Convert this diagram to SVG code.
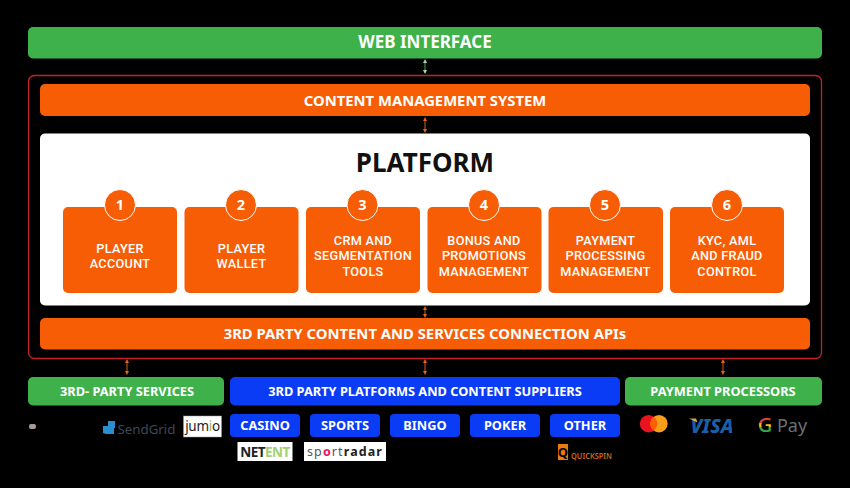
<svg xmlns="http://www.w3.org/2000/svg" width="850" height="488" viewBox="0 0 850 488">
<style>
text{font-family:"Noto Sans","Open Sans","Liberation Sans",sans-serif;text-anchor:middle}
.h{font-weight:700;fill:#fff}
.p{font-family:Roboto,"Liberation Sans",sans-serif;font-weight:500;font-size:12.700px;fill:#fff;letter-spacing:.3px}
.n{font-weight:700;font-size:14.500px;fill:#fff}
.b{font-weight:700;font-size:12.800px;fill:#fff}
.or{fill:#f75d04}.gr{fill:#3eb14a}.bl{fill:#0b3cf5}
.c{stroke:#c8622a;stroke-width:1;fill:none;marker-start:url(#a);marker-end:url(#a)}
.cg{stroke:#3eb14a;stroke-width:1;fill:none;marker-start:url(#ag);marker-end:url(#ag)}
</style>
<defs>
<marker id="a" markerUnits="userSpaceOnUse" markerWidth="4" markerHeight="4" refX="2" refY="2" orient="auto-start-reverse"><path d="M0 0L4 2L0 4Z" fill="#e8650f"/></marker>
<marker id="ag" markerUnits="userSpaceOnUse" markerWidth="4" markerHeight="4" refX="2" refY="2" orient="auto-start-reverse"><path d="M0 0L4 2L0 4Z" fill="#a5d8aa"/></marker>
<linearGradient id="g" x1="0" y1="0" x2="0" y2="1"><stop offset=".45" stop-color="#ea4335"/><stop offset=".45" stop-color="#fbbc05"/><stop offset=".6" stop-color="#fbbc05"/><stop offset=".6" stop-color="#34a853"/></linearGradient>
</defs>
<rect width="850" height="488" fill="#000"/>
<g id="container"><rect x="28.500" y="75.500" width="793" height="283" rx="6" fill="none" stroke="#c5202a" stroke-width="1.300"/></g>
<g id="connectors">
<path class="cg" d="M425 61V72"/>
<path class="c" d="M425 119V131"/>
<path class="c" d="M425 308V316"/>
<path class="c" d="M127 361V373"/>
<path class="c" d="M425 361V373"/>
<path class="c" d="M723 361V373"/>
</g>
<g id="web-interface"><rect class="gr" x="28" y="27" width="794" height="31.500" rx="5"/><text class="h" x="425" y="48" font-size="17">WEB INTERFACE</text></g>
<g id="cms"><rect class="or" x="40" y="84" width="770" height="32" rx="5"/><text class="h" x="425" y="106" font-size="14.800">CONTENT MANAGEMENT SYSTEM</text></g>
<g id="platform"><rect x="40" y="133.500" width="770" height="172" rx="5" fill="#fff"/><text x="425" y="172" style="font-weight:700;font-size:26px;fill:#111">PLATFORM</text></g>
<g id="card1"><rect class="or" x="63" y="207" width="114" height="86" rx="5"/><circle class="or" cx="120" cy="205" r="15.500" stroke="#fff" stroke-width="1"/><text class="n" x="120" y="210">1</text><text class="p" x="120" y="253">PLAYER</text><text class="p" x="120" y="268.300">ACCOUNT</text></g>
<g id="card2"><rect class="or" x="184.500" y="207" width="114" height="86" rx="5"/><circle class="or" cx="241" cy="205" r="15.500" stroke="#fff" stroke-width="1"/><text class="n" x="241" y="210">2</text><text class="p" x="241.500" y="253">PLAYER</text><text class="p" x="241.500" y="268.300">WALLET</text></g>
<g id="card3"><rect class="or" x="306" y="207" width="114" height="86" rx="5"/><circle class="or" cx="362.500" cy="205" r="15.500" stroke="#fff" stroke-width="1"/><text class="n" x="362.500" y="210">3</text><text class="p" x="363" y="245">CRM AND</text><text class="p" x="363" y="260.300">SEGMENTATION</text><text class="p" x="363" y="275.600">TOOLS</text></g>
<g id="card4"><rect class="or" x="427.500" y="207" width="114" height="86" rx="5"/><circle class="or" cx="484" cy="205" r="15.500" stroke="#fff" stroke-width="1"/><text class="n" x="484" y="210">4</text><text class="p" x="484" y="245">BONUS AND</text><text class="p" x="484" y="260.300">PROMOTIONS</text><text class="p" x="484" y="275.600">MANAGEMENT</text></g>
<g id="card5"><rect class="or" x="548.500" y="207" width="114.500" height="86" rx="5"/><circle class="or" cx="605" cy="205" r="15.500" stroke="#fff" stroke-width="1"/><text class="n" x="605" y="210">5</text><text class="p" x="605.500" y="245">PAYMENT</text><text class="p" x="605.500" y="260.300">PROCESSING</text><text class="p" x="605.500" y="275.600">MANAGEMENT</text></g>
<g id="card6"><rect class="or" x="670" y="207" width="114" height="86" rx="5"/><circle class="or" cx="727" cy="205" r="15.500" stroke="#fff" stroke-width="1"/><text class="n" x="727" y="210">6</text><text class="p" x="727" y="245">KYC, AML</text><text class="p" x="727" y="260.300">AND FRAUD</text><text class="p" x="727" y="275.600">CONTROL</text></g>
<g id="apis"><rect class="or" x="40" y="318" width="770" height="31.500" rx="5"/><text class="h" x="425" y="339" font-size="14.800">3RD PARTY CONTENT AND SERVICES CONNECTION APIs</text></g>
<g id="third-party-services"><rect class="gr" x="28" y="377" width="196" height="28.500" rx="5"/><text class="b" x="127" y="396">3RD- PARTY SERVICES</text></g>
<g id="suppliers"><rect class="bl" x="230" y="377" width="390" height="28.500" rx="5"/><text class="b" x="425" y="396">3RD PARTY PLATFORMS AND CONTENT SUPPLIERS</text></g>
<g id="payment-processors"><rect class="gr" x="625" y="377" width="197" height="28.500" rx="5"/><text class="b" x="723" y="396">PAYMENT PROCESSORS</text></g>
<g id="casino"><rect class="bl" x="230" y="414" width="70" height="23" rx="4"/><text class="b" x="265" y="430">CASINO</text></g>
<g id="sports"><rect class="bl" x="310" y="414" width="70" height="23" rx="4"/><text class="b" x="345" y="430">SPORTS</text></g>
<g id="bingo"><rect class="bl" x="390" y="414" width="70" height="23" rx="4"/><text class="b" x="425" y="430">BINGO</text></g>
<g id="poker"><rect class="bl" x="470" y="414" width="70" height="23" rx="4"/><text class="b" x="505" y="430">POKER</text></g>
<g id="other"><rect class="bl" x="550" y="414" width="70" height="23" rx="4"/><text class="b" x="585" y="430">OTHER</text></g>
<g id="logo-dot"><rect x="29" y="424" width="7" height="5" rx="2" fill="#a89a95"/></g>
<g id="logo-sendgrid"><path d="M108 421h7v7h-7zM103 426h5v8h-2l-3-1zM108 428h6v6h-6z" fill="#2a8fcf"/><text x="146.500" y="434" style="font-size:13.300px;fill:#3c4a57">SendGrid</text></g>
<g id="logo-jumio"><rect x="183.500" y="416" width="38" height="21" fill="#fff" stroke="#999" stroke-width=".5"/><text x="202.500" y="431" style="font-size:13.500px;fill:#222;letter-spacing:-.3px">jum<tspan fill="#b5a960">i</tspan>o</text></g>
<g id="logo-netent"><rect x="237.500" y="442" width="55" height="19" fill="#fff"/><text x="265" y="457" style="font-size:13.500px;font-weight:700;fill:#222;letter-spacing:-.5px">NET<tspan fill="#a5cf70">ENT</tspan></text></g>
<g id="logo-sportradar"><rect x="304" y="442" width="82" height="19" fill="#fff"/><text x="345" y="456" style="font-size:12.500px;font-weight:700;fill:#222;letter-spacing:1.100px"><tspan font-weight="400" fill="#555">sp</tspan><tspan fill="#e5185d">o</tspan><tspan font-weight="400" fill="#555">rt</tspan>radar</text></g>
<g id="logo-quickspin"><rect x="558" y="444" width="10" height="16" fill="#e87a10"/><text x="563" y="457" style="font-size:13px;font-weight:700;fill:#000">Q</text><text x="591.500" y="459" textLength="41" lengthAdjust="spacingAndGlyphs" style="font-size:9px;font-weight:600;fill:#c96a10">QUICKSPIN</text></g>
<g id="logo-mastercard"><circle cx="648.500" cy="423.700" r="8.700" fill="#e9141d"/><circle cx="659" cy="423.700" r="8.700" fill="#f79e1b"/><path d="M653.750 416.800a8.700 8.700 0 0 1 0 13.800a8.700 8.700 0 0 1 0-13.800Z" fill="#ff5f00"/></g>
<g id="logo-visa"><text x="712" y="433" style="font-size:19.500px;font-weight:800;font-style:italic;fill:#1a5fa8">VISA</text><path d="M689 418.500h7l1.500 4Z" fill="#d9a83c"/></g>
<g id="logo-gpay"><text x="765" y="432" style="font-size:20px;font-weight:500;fill:url(#g)">G</text><text x="792" y="432" style="font-size:18px;fill:#6b6f73">Pay</text></g>
</svg>
